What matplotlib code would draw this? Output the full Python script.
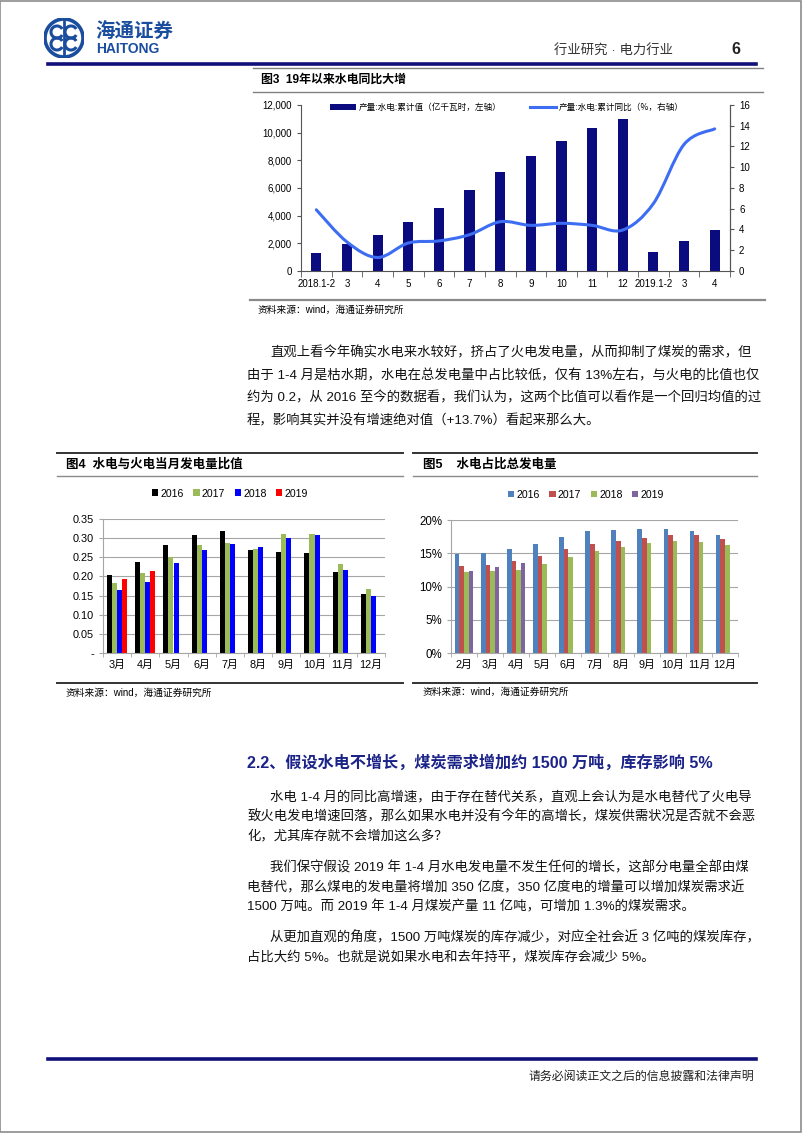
import matplotlib
matplotlib.use('Agg')
import matplotlib.pyplot as plt
from matplotlib.lines import Line2D
from matplotlib.patches import Patch, PathPatch, Circle, Arc
from matplotlib.path import Path

plt.rcParams['font.family'] = ['Liberation Sans', 'Noto Sans CJK SC', 'DejaVu Sans']
plt.rcParams['axes.unicode_minus'] = False

# ---- data: chart 3 (hydro output, cumulative) ----
months3 = ['2018.1-2', '3', '4', '5', '6', '7', '8', '9', '10', '11', '12', '2019.1-2', '3', '4']
hydro_cum = [1290, 1950, 2620, 3560, 4570, 5870, 7130, 8300, 9430, 10320, 10990, 1340, 2160, 2950]
hydro_yoy = [5.9, 2.8, 1.3, 2.7, 2.9, 3.5, 4.75, 4.4, 4.6, 4.4, 3.95, 6.5, 12.2, 13.7]

# ---- data: chart 4 (hydro / thermal monthly ratio) ----
months4 = ['3月', '4月', '5月', '6月', '7月', '8月', '9月', '10月', '11月', '12月']
ratio_2016 = [0.205, 0.238, 0.283, 0.308, 0.319, 0.268, 0.263, 0.260, 0.212, 0.153]
ratio_2017 = [0.184, 0.210, 0.250, 0.281, 0.288, 0.271, 0.310, 0.310, 0.232, 0.167]
ratio_2018 = [0.165, 0.185, 0.235, 0.269, 0.285, 0.276, 0.301, 0.308, 0.217, 0.150]
ratio_2019 = [0.194, 0.214]

# ---- data: chart 5 (hydro share of total generation, %) ----
months5 = ['2月', '3月', '4月', '5月', '6月', '7月', '8月', '9月', '10月', '11月', '12月']
share_2016 = [14.9, 15.0, 15.7, 16.4, 17.4, 18.3, 18.5, 18.6, 18.6, 18.3, 17.8]
share_2017 = [13.1, 13.2, 13.9, 14.6, 15.6, 16.4, 16.8, 17.3, 17.8, 17.7, 17.2]
share_2018 = [12.2, 12.3, 12.5, 13.4, 14.4, 15.4, 16.0, 16.6, 16.8, 16.7, 16.3]
share_2019 = [12.3, 12.9, 13.5]
years = ['2016', '2017', '2018', '2019']

W, H = 802, 1133
fig = plt.figure(figsize=(W / 100, H / 100), dpi=100)

def T(x, y, s, **kw):
    kw.setdefault('va', 'center')
    fig.text(x / W, 1 - y / H, s, **kw)

def hline(x0, x1, y, color='#808080', lw=1.0):
    fig.add_artist(Line2D([x0 / W, x1 / W], [1 - y / H, 1 - y / H],
                          transform=fig.transFigure, color=color, lw=lw))

def box(x0, y0, x1, y1):
    return [x0 / W, 1 - y1 / H, (x1 - x0) / W, (y1 - y0) / H]

# page frame
fig.add_artist(plt.Rectangle((0.0006, 0.0005), 0.9985, 0.999, transform=fig.transFigure,
                             fill=False, edgecolor='#8c8c8c', lw=1.2))

# ---- header ----
logo_blue = '#1b4d9e'
lax = fig.add_axes(box(44, 18, 84, 58))
lax.set_xlim(-1, 1); lax.set_ylim(-1, 1); lax.axis('off')
lax.add_patch(Circle((0, 0), 0.95, fill=False, lw=2.6, edgecolor=logo_blue))
for cx, cy in [(-0.35, 0.3), (0.35, 0.3), (-0.35, -0.3), (0.35, -0.3)]:
    lax.add_patch(Arc((cx, cy), 0.6, 0.6, theta1=30, theta2=330, lw=2.2, color=logo_blue))
lax.plot([0, 0], [-0.9, 0.9], color=logo_blue, lw=2)
T(95, 32, '海通证券', fontsize=14, fontweight='bold', color=logo_blue, style='italic')
T(96, 49, 'HAITONG', fontsize=10, fontweight='bold', color=logo_blue)
T(673, 51, '行业研究 · 电力行业', fontsize=9.6, color='#333333', ha='right')
T(740, 50, '6', fontsize=11.5, fontweight='bold', color='#222222', ha='right')
hline(48, 756, 64, color='#10107a', lw=2.6)

# ---- chart 3 ----
hline(253, 763, 68, lw=1.0)
T(261, 80, '图3  19年以来水电同比大增', fontsize=8.6, fontweight='bold')
hline(253, 763, 92, lw=1.0)
hline(250, 765, 300, color='#8a8a8a', lw=1.6)
T(258, 310, '资料来源：wind，海通证券研究所', fontsize=7)

ax3 = fig.add_axes(box(301, 105, 730, 271))
x3 = list(range(len(months3)))
ax3.bar(x3, hydro_cum, width=0.33, color='#0b0b80', zorder=2)
ax3.set_xlim(-0.5, len(months3) - 0.5)
ax3.set_ylim(0, 12000)
ax3.set_yticks(range(0, 12001, 2000))
ax3.set_yticklabels(['{:,}'.format(v) for v in range(0, 12001, 2000)])
ax3.set_xticks(x3)
ax3.set_xticklabels(months3)
ax3.set_xticks([i - 0.5 for i in range(len(months3) + 1)], minor=True)
ax3.tick_params(axis='x', which='major', length=0, labelsize=7, pad=6)
ax3.tick_params(axis='x', which='minor', length=4, color='#555555', direction='out')
ax3.tick_params(axis='y', length=3, color='#555555', labelsize=7)
ax3.spines['top'].set_visible(False)
for s in ['left', 'right', 'bottom']:
    ax3.spines[s].set_color('#555555')
    ax3.spines[s].set_linewidth(0.8)

ax3r = ax3.twinx()
ax3r.set_ylim(0, 16)
ax3r.set_yticks(range(0, 17, 2))
ax3r.tick_params(axis='y', length=3, color='#555555', labelsize=7)
ax3r.spines['top'].set_visible(False)
ax3r.spines['right'].set_color('#555555')
ax3r.spines['left'].set_visible(False)
ax3r.spines['bottom'].set_visible(False)

# smooth line (Catmull-Rom style bezier, like Excel smoothing)
n = len(x3)
verts = [(x3[0], hydro_yoy[0])]
codes = [Path.MOVETO]
for i in range(n - 1):
    p0 = max(i - 1, 0)
    p3 = min(i + 2, n - 1)
    c1 = (x3[i] + (x3[i + 1] - x3[p0]) / 6, hydro_yoy[i] + (hydro_yoy[i + 1] - hydro_yoy[p0]) / 6)
    c2 = (x3[i + 1] - (x3[p3] - x3[i]) / 6, hydro_yoy[i + 1] - (hydro_yoy[p3] - hydro_yoy[i]) / 6)
    verts += [c1, c2, (x3[i + 1], hydro_yoy[i + 1])]
    codes += [Path.CURVE4] * 3
ax3r.add_patch(PathPatch(Path(verts, codes), fill=False, edgecolor='#3d6df2', lw=2.2,
                         capstyle='round', zorder=3))

h3 = [Patch(facecolor='#0b0b80'), Line2D([0], [0], color='#3d6df2', lw=2.2)]
ax3.legend(h3, ['产量:水电:累计值（亿千瓦时，左轴）', '产量:水电:累计同比（%，右轴）'],
           ncol=2, loc='center', bbox_to_anchor=(0.48, 0.985), frameon=False,
           prop={'size': 6.2, 'family': ['Noto Sans CJK SC']}, handlelength=3.0, handleheight=0.7,
           columnspacing=3.3, handletextpad=0.3)

# ---- paragraph 1 ----
body = dict(fontsize=9.6, color='#111111', family=['Liberation Sans', 'Noto Sans CJK SC'])
para1 = ['直观上看今年确实水电来水较好，挤占了火电发电量，从而抑制了煤炭的需求，但',
         '由于 1-4 月是枯水期，水电在总发电量中占比较低，仅有 13%左右，与火电的比值也仅',
         '约为 0.2，从 2016 至今的数据看，我们认为，这两个比值可以看作是一个回归均值的过',
         '程，影响其实并没有增速绝对值（+13.7%）看起来那么大。']
for k, line in enumerate(para1):
    T(270 if k == 0 else 247, 353 + 22.5 * k, line, **body)

# ---- chart 4 ----
grid_c = '#a6a6a6'
hline(57, 403, 453, color='#333333', lw=1.4)
T(66, 465, '图4  水电与火电当月发电量比值', fontsize=9, fontweight='bold')
hline(57, 403, 476, color='#8a8a8a', lw=1.0)
hline(57, 403, 683, color='#333333', lw=1.4)
T(66, 693, '资料来源：wind，海通证券研究所', fontsize=7)

ax4 = fig.add_axes(box(103, 519, 385, 653))
w = 0.18
cols4 = ['#000000', '#9bbb59', '#0000ff', '#ff0000']
series4 = [ratio_2016, ratio_2017, ratio_2018, ratio_2019]
for j, (vals, c) in enumerate(zip(series4, cols4)):
    xs = [i + (j - 1.5) * w for i in range(len(vals))]
    ax4.bar(xs, vals, width=w, color=c, zorder=2, label=years[j])
ax4.set_xlim(-0.5, len(months4) - 0.5)
ax4.set_ylim(0, 0.35)
yt4 = [0, 0.05, 0.10, 0.15, 0.20, 0.25, 0.30, 0.35]
ax4.set_yticks(yt4)
ax4.set_yticklabels(['-'] + ['{:.2f}'.format(v) for v in yt4[1:]])
ax4.grid(axis='y', color=grid_c, lw=0.8, zorder=0)
ax4.set_xticks(range(len(months4)))
ax4.set_xticklabels(months4)
ax4.set_xticks([i - 0.5 for i in range(len(months4) + 1)], minor=True)
ax4.tick_params(axis='x', which='major', length=0, labelsize=7.8, pad=5)
ax4.tick_params(axis='x', which='minor', length=3, color=grid_c)
ax4.tick_params(axis='y', length=3, color=grid_c, labelsize=7.8)
for s in ['top', 'right']:
    ax4.spines[s].set_visible(False)
for s in ['left', 'bottom']:
    ax4.spines[s].set_color(grid_c)
ax4.legend(loc='center', bbox_to_anchor=(0.45, 1.19), ncol=4, frameon=False, fontsize=7.6,
           handlelength=0.6, handleheight=0.6, handletextpad=0.2, columnspacing=0.9)

# ---- chart 5 ----
hline(413, 757, 453, color='#333333', lw=1.4)
T(423, 465, '图5    水电占比总发电量', fontsize=9, fontweight='bold')
hline(413, 757, 476, color='#8a8a8a', lw=1.0)
hline(413, 757, 683, color='#333333', lw=1.4)
T(423, 692, '资料来源：wind，海通证券研究所', fontsize=7)

ax5 = fig.add_axes(box(451, 520, 738, 653))
w5 = 0.177
cols5 = ['#4f81bd', '#c0504d', '#9bbb59', '#8064a2']
series5 = [share_2016, share_2017, share_2018, share_2019]
for j, (vals, c) in enumerate(zip(series5, cols5)):
    xs = [i + (j - 1.5) * w5 for i in range(len(vals))]
    ax5.bar(xs, vals, width=w5, color=c, zorder=2, label=years[j])
ax5.set_xlim(-0.5, len(months5) - 0.5)
ax5.set_ylim(0, 20)
ax5.set_yticks([0, 5, 10, 15, 20])
ax5.set_yticklabels(['{}%'.format(v) for v in [0, 5, 10, 15, 20]])
ax5.grid(axis='y', color=grid_c, lw=0.8, zorder=0)
ax5.set_xticks(range(len(months5)))
ax5.set_xticklabels(months5)
ax5.set_xticks([i - 0.5 for i in range(len(months5) + 1)], minor=True)
ax5.tick_params(axis='x', which='major', length=0, labelsize=7.8, pad=5)
ax5.tick_params(axis='x', which='minor', length=3, color=grid_c)
ax5.tick_params(axis='y', length=3, color=grid_c, labelsize=8.3)
for s in ['top', 'right']:
    ax5.spines[s].set_visible(False)
for s in ['left', 'bottom']:
    ax5.spines[s].set_color(grid_c)
ax5.legend(loc='center', bbox_to_anchor=(0.47, 1.19), ncol=4, frameon=False, fontsize=7.6,
           handlelength=0.6, handleheight=0.6, handletextpad=0.2, columnspacing=0.9)

# ---- section 2.2 ----
T(247, 763, '2.2、假设水电不增长，煤炭需求增加约 1500 万吨，库存影响 5%', fontsize=11.6,
  fontweight='bold', color='#1c2388', family=['Liberation Sans', 'Noto Sans CJK SC'])

paras = [
    (797, ['水电 1-4 月的同比高增速，由于存在替代关系，直观上会认为是水电替代了火电导',
           '致火电发电增速回落，那么如果水电并没有今年的高增长，煤炭供需状况是否就不会恶',
           '化，尤其库存就不会增加这么多？']),
    (868, ['我们保守假设 2019 年 1-4 月水电发电量不发生任何的增长，这部分电量全部由煤',
           '电替代，那么煤电的发电量将增加 350 亿度，350 亿度电的增量可以增加煤炭需求近',
           '1500 万吨。而 2019 年 1-4 月煤炭产量 11 亿吨，可增加 1.3%的煤炭需求。']),
    (938, ['从更加直观的角度，1500 万吨煤炭的库存减少，对应全社会近 3 亿吨的煤炭库存，',
           '占比大约 5%。也就是说如果水电和去年持平，煤炭库存会减少 5%。']),
]
for y0, lines in paras:
    for k, line in enumerate(lines):
        T(270 if k == 0 else 247, y0 + 19.5 * k, line, **body)

# ---- footer ----
hline(48, 756, 1059, color='#10107a', lw=2.6)
T(754, 1077, '请务必阅读正文之后的信息披露和法律声明', fontsize=8.6, color='#222222', ha='right')

fig.savefig('out.png', dpi=100)
